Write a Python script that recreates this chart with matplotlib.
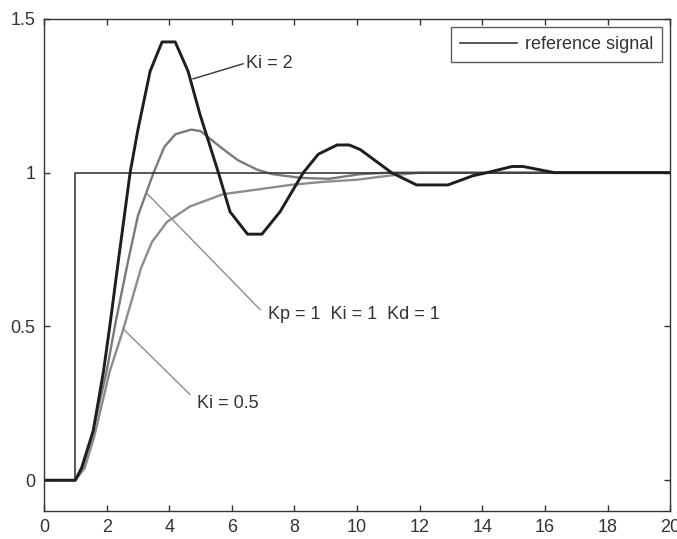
import matplotlib
matplotlib.use("Agg")
import matplotlib.pyplot as plt

plt.rcParams['font.family'] = ['Liberation Sans', 'DejaVu Sans']

# reference step signal
t_ref = [0, 1, 1, 20]
y_ref = [0, 0, 1, 1]

# Ki = 2 response
t_ki2 = [0, 1, 1.2, 1.57, 1.9, 2.1, 2.37, 2.75, 3.0, 3.39, 3.77, 4.19, 4.6, 4.98,
         5.57, 5.94, 6.5, 6.96, 7.54, 8.28, 8.76, 9.36, 9.75, 10.1, 11.1, 11.9,
         12.9, 13.7, 14.15, 14.95, 15.3, 16.3, 20]
y_ki2 = [0, 0, 0.04, 0.16, 0.354, 0.5, 0.71, 1.0, 1.14, 1.33, 1.425, 1.425, 1.33, 1.19,
         1.0, 0.873, 0.80, 0.80, 0.873, 1.0, 1.06, 1.09, 1.09, 1.075, 1.0, 0.96,
         0.96, 0.99, 1.0, 1.02, 1.02, 1.0, 1.0]

# Kp = 1, Ki = 1, Kd = 1 response
t_ki1 = [0, 1, 1.2, 1.5, 2.0, 2.3, 2.68, 3.0, 3.5, 3.85, 4.2, 4.7, 5.0, 5.7, 6.2,
         6.8, 7.3, 8.2, 9.1, 10.1, 11.0, 20]
y_ki1 = [0, 0, 0.03, 0.13, 0.354, 0.52, 0.71, 0.86, 1.0, 1.085, 1.125, 1.14, 1.135, 1.078, 1.04,
         1.01, 0.995, 0.983, 0.98, 0.995, 1.0, 1.0]

# Ki = 0.5 response
t_ki05 = [0, 1, 1.3, 1.6, 2.1, 2.53, 3.1, 3.45, 3.93, 4.66, 5.72, 6.8, 7.86, 8.9,
          10.0, 11.0, 12.0, 20]
y_ki05 = [0, 0, 0.04, 0.14, 0.354, 0.49, 0.69, 0.775, 0.84, 0.89, 0.93, 0.945, 0.96, 0.97,
          0.977, 0.99, 1.0, 1.0]

x_ticks = [0, 2, 4, 6, 8, 10, 12, 14, 16, 18, 20]
y_ticks = [0, 0.5, 1, 1.5]
y_tick_labels = ['0', '0.5', '1', '1.5']

fig = plt.figure(figsize=(6.77, 5.39), dpi=100)
ax = fig.add_axes([0.065, 0.052, 0.925, 0.913])

ax.plot(t_ki05, y_ki05, color='#8c8c8c', lw=1.7)
ax.plot(t_ki1, y_ki1, color='#7a7a7a', lw=1.7)
ax.plot(t_ref, y_ref, color='#3a3a3a', lw=1.2, label='reference signal')
ax.plot(t_ki2, y_ki2, color='#1e1e1e', lw=2.1)

# annotation leader lines and labels
ann_col = '#8c8c8c'
ax.plot([4.76, 6.36], [1.305, 1.354], color='#333333', lw=1.0)
ax.text(6.45, 1.354, 'Ki = 2', ha='left', va='center', fontsize=13, color='#333333')
ax.plot([3.29, 6.9], [0.932, 0.555], color=ann_col, lw=1.0)
ax.text(7.16, 0.539, 'Kp = 1  Ki = 1  Kd = 1', ha='left', va='center', fontsize=13, color='#333333')
ax.plot([2.52, 4.66], [0.493, 0.279], color=ann_col, lw=1.0)
ax.text(4.89, 0.25, 'Ki = 0.5', ha='left', va='center', fontsize=13, color='#333333')

ax.set_xlim(0, 20)
ax.set_ylim(-0.1, 1.5)
ax.set_xticks(x_ticks)
ax.set_yticks(y_ticks)
ax.set_yticklabels(y_tick_labels)
ax.tick_params(direction='in', top=True, right=True, length=4, width=1,
               colors='#333333', labelsize=13, pad=6)
for s in ax.spines.values():
    s.set_color('#333333')
    s.set_linewidth(1.0)

leg = ax.legend(loc='upper right', fontsize=13, frameon=True, fancybox=False,
                edgecolor='#333333', handlelength=3.2, borderpad=0.5,
                handletextpad=0.4, borderaxespad=0.45)
leg.get_frame().set_linewidth(1.0)
for txt in leg.get_texts():
    txt.set_color('#333333')

fig.savefig('out.png', dpi=100)
